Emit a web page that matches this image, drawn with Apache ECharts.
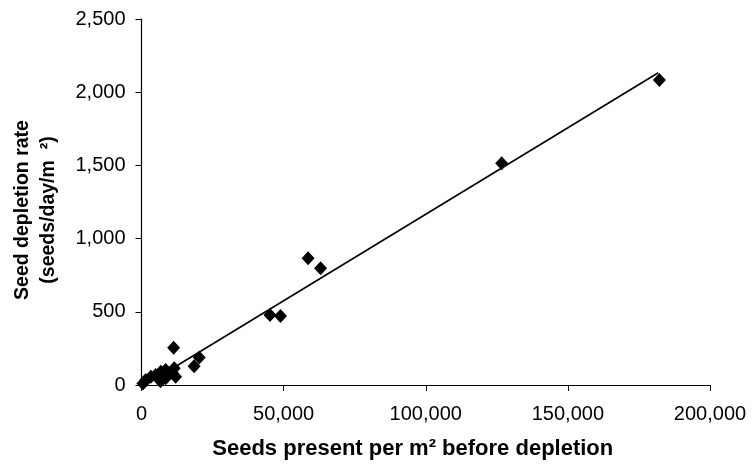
<!DOCTYPE html>
<html>
<head>
<meta charset="utf-8">
<script src="https://cdn.jsdelivr.net/npm/echarts@6/dist/echarts.min.js"></script>
<style>
html,body{margin:0;padding:0;background:#fff;}
#chart{width:754px;height:467px;}
</style>
</head>
<body>
<div id="chart"></div>
<script>
// Observed points: seeds present per m2 (x) vs seed depletion rate (y)
var seedsPresent = [500, 1500, 3300, 5000, 6800, 6700, 8500, 8500, 10900, 11500, 12000, 11300, 18500, 20300, 45200, 48900, 58600, 63000, 126700, 182200];
var depletionRate = [10, 34, 57, 68, 91, 25, 102, 46, 80, 114, 57, 255, 128, 188, 478, 471, 865, 797, 1514, 2083];
// Fitted trend line endpoints
var trendX = [1300, 181800];
var trendY = [0, 2133];
// Axis ticks
var xTicks = [0, 50000, 100000, 150000, 200000];
var yTicks = [0, 500, 1000, 1500, 2000, 2500];

var points = seedsPresent.map(function (x, i) { return [x, depletionRate[i]]; });
var trend = trendX.map(function (x, i) { return [x, trendY[i]]; });

function fmt(v) { return Number(v).toLocaleString('en-US'); }

var chart = echarts.init(document.getElementById('chart'), null, { renderer: 'canvas' });
chart.setOption({
  backgroundColor: '#ffffff',
  animation: false,
  grid: { left: 141.5, right: 44, top: 19, bottom: 82, containLabel: false },
  xAxis: {
    type: 'value',
    min: xTicks[0],
    max: xTicks[xTicks.length - 1],
    interval: xTicks[1] - xTicks[0],
    name: 'Seeds present per m² before depletion',
    nameLocation: 'middle',
    nameGap: 53,
    nameTextStyle: { fontFamily: 'Liberation Sans', fontWeight: 'bold', fontSize: 22, color: '#000', padding: [0, 26, 0, 0] },
    axisLine: { show: true, onZero: false, lineStyle: { color: '#000', width: 1.2 } },
    axisTick: { show: true, inside: false, length: 6, lineStyle: { color: '#000', width: 1 } },
    axisLabel: { formatter: fmt, fontFamily: 'Liberation Sans', fontSize: 20, color: '#000', margin: 19 },
    splitLine: { show: false }
  },
  yAxis: {
    type: 'value',
    min: yTicks[0],
    max: yTicks[yTicks.length - 1],
    interval: yTicks[1] - yTicks[0],
    name: 'Seed depletion rate\n(seeds/day/m  ²)',
    nameLocation: 'middle',
    nameRotate: 90,
    nameGap: 80,
    nameTextStyle: { fontFamily: 'Liberation Sans', fontWeight: 'bold', fontSize: 19.5, lineHeight: 26, color: '#000', align: 'center', padding: [0, 16, 0, 0] },
    axisLine: { show: true, onZero: false, lineStyle: { color: '#000', width: 1.2 } },
    axisTick: { show: true, inside: false, length: 6, lineStyle: { color: '#000', width: 1 } },
    axisLabel: { formatter: fmt, fontFamily: 'Liberation Sans', fontSize: 20, color: '#000', margin: 16 },
    splitLine: { show: false }
  },
  series: [
    {
      type: 'line',
      data: trend,
      showSymbol: false,
      symbol: 'none',
      lineStyle: { color: '#000', width: 1.6 },
      silent: true,
      z: 2
    },
    {
      type: 'scatter',
      data: points,
      symbol: 'diamond',
      symbolSize: [13, 14],
      itemStyle: { color: '#000', opacity: 1 },
      z: 3
    }
  ]
});
</script>
</body>
</html>
